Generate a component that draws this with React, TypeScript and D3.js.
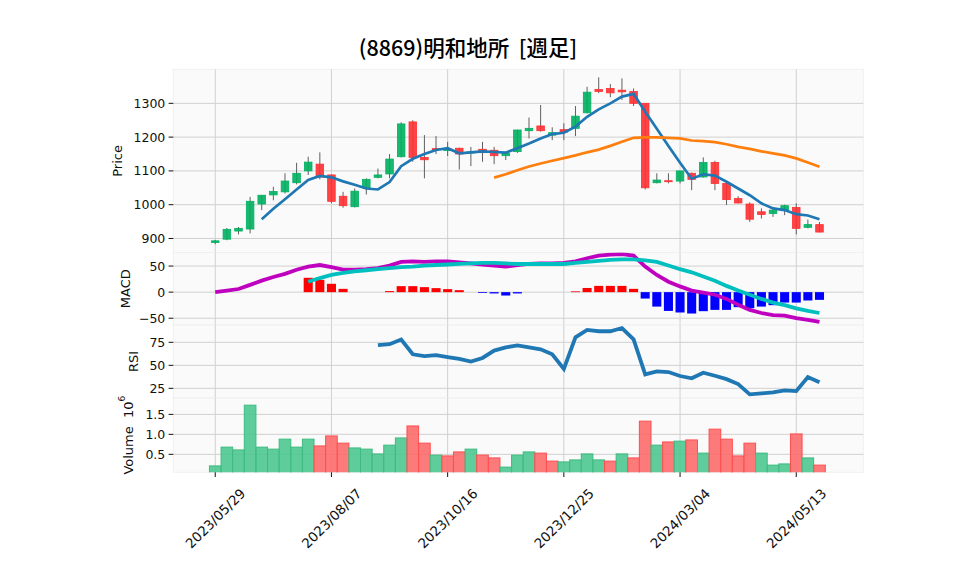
import React, { useEffect, useRef } from 'react'
import * as d3 from 'd3'

// weekly chart, 53 weeks starting 2023/05/29
const title = '(8869)明和地所  [週足]'
const tickIdx = [0, 10, 20, 30, 40, 50]
const tickLabels = ['2023/05/29', '2023/08/07', '2023/10/16', '2023/12/25', '2024/03/04', '2024/05/13']

const opens = [888, 898, 922, 928, 1002, 1029, 1038, 1065, 1100, 1120, 1088, 1025, 994, 1050, 1081, 1091, 1142, 1245, 1140, 1166,
  1160, 1167, 1153, 1164, 1161, 1145, 1157, 1219, 1233, 1206, 1222, 1226, 1272, 1341, 1344, 1339, 1335, 1300, 1065, 1071,
  1070, 1093, 1082, 1125, 1063, 1018, 1002, 979, 974, 984, 992, 933, 941]
const highs = [896, 931, 934, 1023, 1028, 1053, 1093, 1124, 1142, 1155, 1090, 1038, 1048, 1078, 1107, 1150, 1244, 1250, 1206, 1203,
  1186, 1169, 1171, 1186, 1171, 1154, 1222, 1258, 1295, 1229, 1241, 1292, 1349, 1377, 1357, 1374, 1344, 1300, 1093, 1093,
  1100, 1095, 1140, 1130, 1065, 1025, 1007, 989, 986, 1000, 1004, 956, 949]
const lows = [883, 895, 912, 915, 984, 1013, 1033, 1060, 1088, 1075, 1004, 991, 992, 1030, 1078, 1078, 1140, 1127, 1078, 1150,
  1144, 1104, 1114, 1127, 1120, 1132, 1153, 1196, 1216, 1191, 1191, 1203, 1270, 1330, 1318, 1310, 1292, 1045, 1063, 1063,
  1063, 1043, 1080, 1043, 999, 1004, 949, 959, 964, 969, 912, 930, 918]
const closes = [893, 927, 930, 1010, 1028, 1039, 1070, 1093, 1126, 1082, 1010, 997, 1040, 1075, 1088, 1135, 1239, 1140, 1133, 1164,
  1163, 1150, 1156, 1154, 1145, 1152, 1221, 1226, 1219, 1213, 1215, 1262, 1333, 1335, 1331, 1334, 1300, 1050, 1073, 1068,
  1100, 1075, 1125, 1063, 1015, 1005, 957, 971, 984, 997, 930, 941, 919]
// volume in 10^6 shares
const volumes = [0.21, 0.68, 0.61, 1.73, 0.68, 0.63, 0.88, 0.68, 0.88, 0.71, 0.96, 0.78, 0.66, 0.63, 0.51, 0.73, 0.91, 1.21, 0.78, 0.48,
  0.46, 0.56, 0.63, 0.48, 0.41, 0.18, 0.48, 0.56, 0.53, 0.33, 0.31, 0.36, 0.51, 0.36, 0.33, 0.51, 0.41, 1.33, 0.73, 0.81,
  0.83, 0.86, 0.53, 1.13, 0.88, 0.46, 0.78, 0.53, 0.23, 0.26, 1.01, 0.41, 0.23]

const ma5Start = 4
const ma5 = [957, 988, 1016, 1045, 1073, 1085, 1081, 1069, 1059, 1048, 1045, 1067, 1114, 1136, 1150, 1162, 1167, 1152, 1155, 1158,
  1156, 1154, 1167, 1181, 1196, 1209, 1213, 1231, 1260, 1282, 1300, 1320, 1328, 1275, 1225, 1174, 1124, 1077, 1090, 1086,
  1068, 1048, 1028, 1004, 989, 984, 972, 968, 957]
const ma25Start = 24
const ma25 = [1080, 1090, 1102, 1113, 1122, 1130, 1138, 1146, 1155, 1163, 1174, 1186, 1198, 1199, 1199, 1198, 1196, 1190, 1188, 1185,
  1179, 1171, 1165, 1158, 1152, 1146, 1137, 1125, 1112]

const macdLine = [0, 3, 6, 14, 22, 29, 35, 43, 49, 52, 48, 43, 43, 44, 46, 51, 58, 59, 58, 59,
  59, 57, 55, 53, 51, 49, 52, 54, 55, 55, 56, 59, 65, 70, 72, 73, 70, 49, 33, 20,
  11, 3, -1, -5, -13, -24, -34, -40, -44, -45, -50, -53, -57]
const signalStart = 8
const signalLine = [20, 27, 33, 37, 40, 42, 44, 46, 48, 49, 51, 52, 53, 54, 55, 56, 56, 55, 54, 54,
  54, 54, 54, 56, 58, 60, 62, 63, 63, 61, 58, 51, 44, 38, 30, 22, 12, 3, -5, -13,
  -20, -25, -31, -36, -40]
const histStart = 8
const histVals = [27.5, 23.6, 16, 6.3, 0, 0, 0, 2, 11.5, 11.5, 9.6, 7.7, 5.8, 3.8, 0, -1.5, -2.5, -6.5, -2.5, 0,
  0, 0, 0, 1.5, 8, 12, 12, 12, 6.3, -12.3, -27.7, -36, -39, -41, -36.5, -34, -34, -28.8, -30.8, -27.7,
  -25, -20, -20, -16, -14.8]

const rsiStart = 14
const rsiVals = [72, 73, 78, 62, 60, 61, 59, 57, 54, 58, 66, 69.5, 71.7, 69.5, 67.4, 62, 46, 80.4, 88.4, 87,
  87, 90.5, 78.2, 40.2, 43.5, 42.7, 38.4, 35.9, 42, 38.7, 35, 29.7, 18.5, 19.5, 20.6, 22.8, 22, 37.3, 31.5]

const priceTicks = [900, 1000, 1100, 1200, 1300]
const macdTicks = [-50, 0, 50]
const rsiTicks = [25, 50, 75]
const volTicks = [0.5, 1.0, 1.5]

const UP = '#00b060'
const DOWN = '#fe3032'
const VUP = '#4dc790'
const VDOWN = '#fd6b6c'
const FONT = 'DejaVu Sans, sans-serif'

export default function App() {
  const ref = useRef<SVGSVGElement>(null)

  useEffect(() => {
    const svg = d3.select(ref.current)
    svg.selectAll('*').remove()

    const left = 173.3, right = 863.3
    const x = d3.scaleLinear().domain([-3.61, 55.77]).range([left, right])
    const step = x(1) - x(0)

    const fmtMinus = (v: number) => (v < 0 ? '\u2212' + Math.abs(v) : String(v))
    const panels = [
      { key: 'price', top: 69.3, bottom: 252.5, domain: [858.5, 1400.7], ticks: priceTicks, fmt: (v: number) => String(v), label: 'Price', lx: 117 },
      { key: 'macd', top: 252.5, bottom: 325, domain: [-63, 76], ticks: macdTicks, fmt: fmtMinus, label: 'MACD', lx: 125 },
      { key: 'rsi', top: 325, bottom: 398, domain: [14.5, 93.8], ticks: rsiTicks, fmt: (v: number) => String(v), label: 'RSI', lx: 133 },
      { key: 'vol', top: 398, bottom: 472.3, domain: [0.05, 1.91], ticks: volTicks, fmt: (v: number) => v.toFixed(1), label: 'Volume', lx: 128 },
    ]

    const ys: Record<string, d3.ScaleLinear<number, number>> = {}
    const groups: Record<string, any> = {}

    panels.forEach(p => {
      const y = d3.scaleLinear().domain(p.domain).range([p.bottom, p.top])
      ys[p.key] = y
      svg.append('rect')
        .attr('x', left).attr('y', p.top)
        .attr('width', right - left).attr('height', p.bottom - p.top)
        .attr('fill', '#fafafa')
        .attr('stroke', '#f0f0f0')

      svg.append('clipPath').attr('id', 'clip-' + p.key)
        .append('rect')
        .attr('x', left).attr('y', p.top)
        .attr('width', right - left).attr('height', p.bottom - p.top)

      // grid
      const grid = svg.append('g').attr('stroke', '#d0d0d0').attr('stroke-width', 1)
      p.ticks.forEach(t => {
        grid.append('line').attr('x1', left).attr('x2', right).attr('y1', y(t)).attr('y2', y(t))
      })
      tickIdx.forEach(i => {
        grid.append('line').attr('x1', x(i)).attr('x2', x(i)).attr('y1', p.top).attr('y2', p.bottom)
      })

      // y ticks
      const ax = svg.append('g')
      p.ticks.forEach(t => {
        ax.append('line').attr('x1', left - 4.7).attr('x2', left).attr('y1', y(t)).attr('y2', y(t))
          .attr('stroke', '#101010').attr('stroke-width', 1)
        ax.append('text').attr('x', left - 8).attr('y', y(t))
          .attr('text-anchor', 'end').attr('dominant-baseline', 'central')
          .attr('font-family', FONT).attr('font-size', 12.5).attr('fill', '#101010')
          .text(p.fmt(t))
      })

      groups[p.key] = svg.append('g').attr('clip-path', `url(#clip-${p.key})`)
    })

    // y labels
    const yl = (p: any) => svg.append('text')
      .attr('transform', `translate(${p.lx},${(p.top + p.bottom) / 2}) rotate(-90)`)
      .attr('text-anchor', 'middle').attr('dominant-baseline', 'central')
      .attr('font-family', FONT).attr('font-size', 13).attr('fill', '#101010')
    panels.slice(0, 3).forEach(p => yl(p).text(p.label))
    const vl = yl(panels[3]).style('white-space', 'pre')
    vl.append('tspan').text('Volume  10')
    vl.append('tspan').attr('font-size', 9).attr('dy', -6).text('6')

    // price panel: candles
    const yp = ys.price
    const gp = groups.price
    const bw = step * 0.65
    opens.forEach((o, i) => {
      const c = closes[i]
      const col = c >= o ? UP : DOWN
      gp.append('line')
        .attr('x1', x(i)).attr('x2', x(i))
        .attr('y1', yp(highs[i])).attr('y2', yp(lows[i]))
        .attr('stroke', '#606060').attr('stroke-width', 1)
      const top = yp(Math.max(o, c)), bot = yp(Math.min(o, c))
      gp.append('rect')
        .attr('x', x(i) - bw / 2).attr('y', top)
        .attr('width', bw).attr('height', Math.max(bot - top, 1))
        .attr('fill', col).attr('fill-opacity', 0.9)
        .attr('stroke', col).attr('stroke-width', 0.8)
    })

    const line = (y: d3.ScaleLinear<number, number>, start: number) =>
      d3.line<number>().x((_, i) => x(i + start)).y(d => y(d))

    gp.append('path').attr('d', line(yp, ma5Start)(ma5))
      .attr('fill', 'none').attr('stroke', '#1f77b4').attr('stroke-width', 2.7)
    gp.append('path').attr('d', line(yp, ma25Start)(ma25))
      .attr('fill', 'none').attr('stroke', '#ff7f0e').attr('stroke-width', 2.7)

    // macd panel
    const ym = ys.macd
    const gm = groups.macd
    const hw = step * 0.78
    histVals.forEach((v, k) => {
      if (v === 0) return
      const i = k + histStart
      gm.append('rect')
        .attr('x', x(i) - hw / 2).attr('y', Math.min(ym(v), ym(0)))
        .attr('width', hw).attr('height', Math.abs(ym(v) - ym(0)))
        .attr('fill', v > 0 ? '#ff0000' : '#0000ff')
    })
    gm.append('path').attr('d', line(ym, 0)(macdLine))
      .attr('fill', 'none').attr('stroke', '#bf00bf').attr('stroke-width', 3.8)
    gm.append('path').attr('d', line(ym, signalStart)(signalLine))
      .attr('fill', 'none').attr('stroke', '#00bfbf').attr('stroke-width', 3.8)

    // rsi panel
    groups.rsi.append('path').attr('d', line(ys.rsi, rsiStart)(rsiVals))
      .attr('fill', 'none').attr('stroke', '#1f77b4').attr('stroke-width', 3.8)

    // volume panel
    const yv = ys.vol
    const gv = groups.vol
    volumes.forEach((v, i) => {
      const up = i === 0 || closes[i] >= closes[i - 1]
      const col = up ? VUP : VDOWN
      gv.append('rect')
        .attr('x', x(i) - step / 2).attr('y', yv(v))
        .attr('width', step).attr('height', yv(0) - yv(v))
        .attr('fill', col).attr('fill-opacity', 0.9)
        .attr('stroke', up ? '#3dbb80' : '#fd4f50').attr('stroke-width', 1)
    })

    // x ticks
    const xb = 472.3
    tickIdx.forEach((i, k) => {
      svg.append('line').attr('x1', x(i)).attr('x2', x(i)).attr('y1', xb).attr('y2', xb + 4.7)
        .attr('stroke', '#101010').attr('stroke-width', 1)
      svg.append('text')
        .attr('transform', `translate(${x(i)},${xb + 46}) rotate(-45)`)
        .attr('text-anchor', 'middle').attr('dominant-baseline', 'central')
        .attr('font-family', FONT).attr('font-size', 13.5).attr('fill', '#101010')
        .text(tickLabels[k])
    })

    // title
    svg.append('text').attr('x', 468).attr('y', 46)
      .style('white-space', 'pre')
      .attr('text-anchor', 'middle').attr('dominant-baseline', 'central')
      .attr('font-family', 'Noto Sans CJK JP, sans-serif').attr('font-size', 21.5).attr('font-weight', 500)
      .attr('fill', '#000')
      .text(title)
  }, [])

  return (
    <svg ref={ref} width={958} height={575}
      style={{ position: 'absolute', left: 0, top: 0, background: '#fff' }} />
  )
}
